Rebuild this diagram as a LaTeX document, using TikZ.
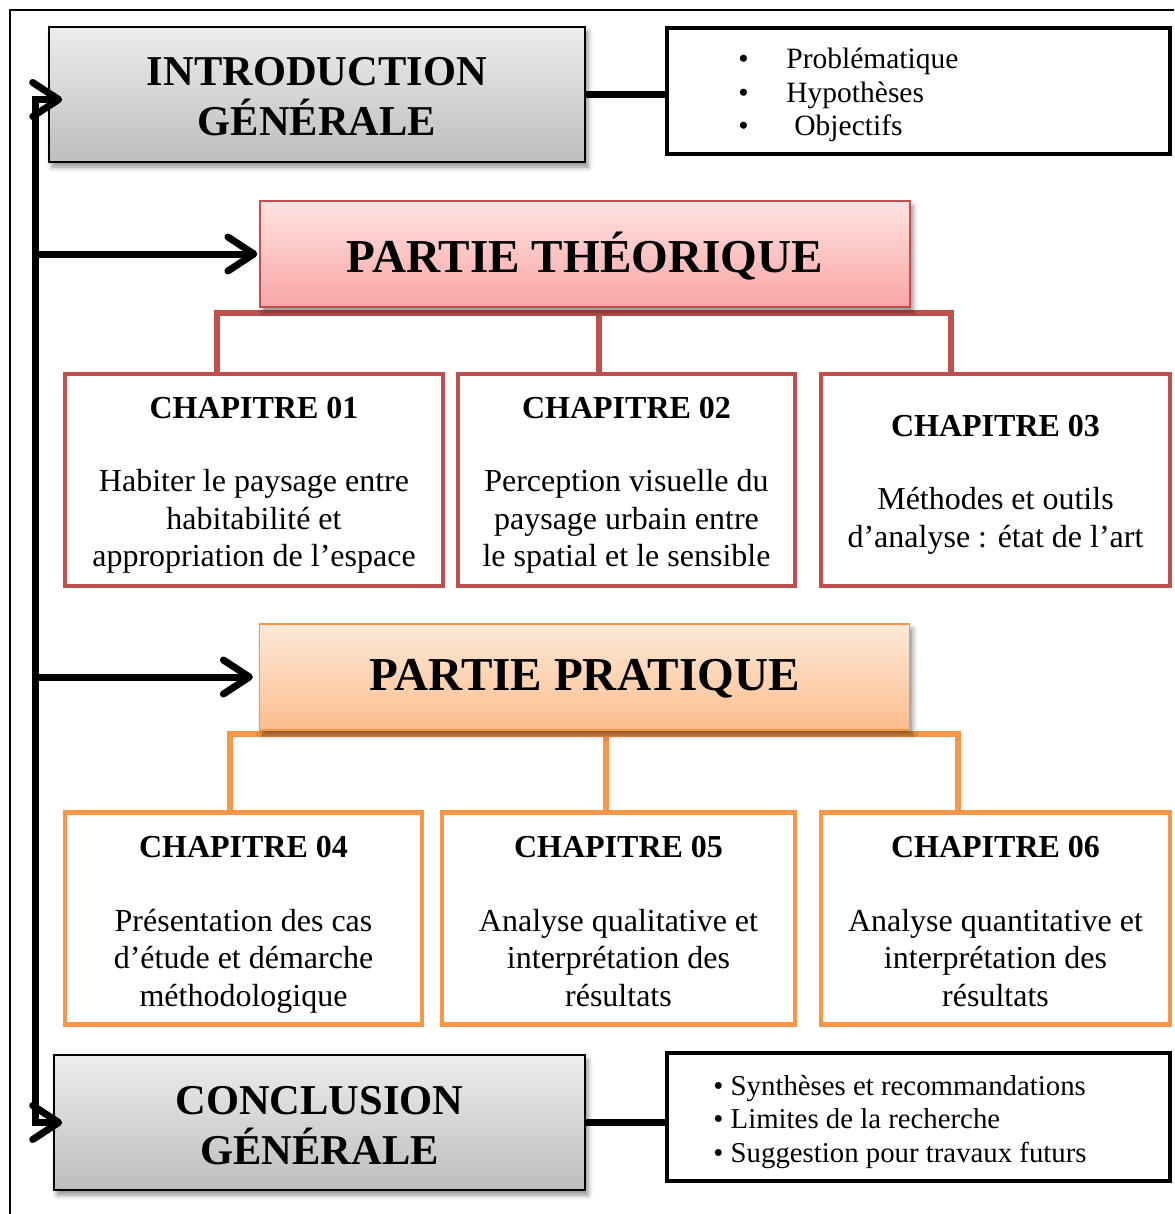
\documentclass[tikz,border=0pt]{standalone}
\usepackage{fontspec}
\setmainfont{Liberation Serif}
\usetikzlibrary{arrows.meta,shadows,shadows.blur}

\definecolor{theored}{HTML}{C0504D}
\definecolor{pratorange}{HTML}{F79646}
\definecolor{greytop}{HTML}{EDEDED}
\definecolor{greybot}{HTML}{BDBDBD}
\definecolor{pinktop}{HTML}{FFE2E2}
\definecolor{pinkbot}{HTML}{F8A6A4}
\definecolor{peachtop}{HTML}{FDE9D9}
\definecolor{peachbot}{HTML}{FBBE8E}

% a title set one point low without changing its box
\newcommand{\lowtitle}[1]{\raisebox{-1pt}[\height][\depth]{#1}}

\tikzset{
  softshadow/.style={blur shadow={shadow xshift=1.5pt, shadow yshift=-2.5pt,
      shadow blur radius=2.5pt, shadow opacity=45}},
  endbox/.style={draw=black, line width=0.8pt, top color=greytop, bottom color=greybot,
      minimum width=#1, minimum height=67.5pt, inner sep=0pt, softshadow},
  endtext/.style={inner sep=0pt, align=center, font=\fontsize{21.25}{25}\selectfont\bfseries},
  partbox/.style={line width=0.6pt, minimum width=325pt, minimum height=53pt,
      inner sep=0pt, align=center, font=\fontsize{23.6}{28}\selectfont\bfseries, softshadow},
  chapbox/.style={draw=#1, line width=2.2pt, fill=white, minimum height=106pt, inner sep=0pt},
  chaptext/.style={anchor=north, inner sep=0pt, align=center,
      font=\fontsize{16}{18.75}\selectfont},
  listbox/.style={draw=black, line width=2pt, fill=white, minimum width=251.5pt,
      minimum height=#1, inner sep=0pt},
  listtext/.style={anchor=north west, inner sep=0pt, align=left,
      font=\fontsize{#1}{16.75}\selectfont},
  spine/.style={line width=3.5pt, black,
      arrows={Straight Barb[length=13pt, width=17pt, line cap=round, line join=round]
              -Straight Barb[length=13pt, width=17pt, line cap=round, line join=round]}},
  barb/.style={line width=3.5pt, black,
      -{Straight Barb[length=13pt, width=17pt, line cap=round, line join=round]}},
  joinline/.style={line width=3.5pt, black},
  branch/.style={line width=3pt, draw=#1},
}

\begin{document}
\begin{tikzpicture}[x=0.5pt, y=-0.5pt]
\useasboundingbox (0,0) rectangle (1174,1214);

% page frame
\draw[line width=1pt] (10,1214) -- (10,10) -- (1174,10);

% coordinates of the tree branches
\coordinate (sp) at (35,0);
\coordinate (tb1) at (217,313);
\coordinate (tb2) at (599,313);
\coordinate (tb3) at (951,313);
\coordinate (pb1) at (230,734);
\coordinate (pb2) at (606,734);
\coordinate (pb3) at (958,734);

% chapter boxes of the theoretical part
\node[chapbox=theored, minimum width=189pt] (ch1) at (254,480) {};
\node[chapbox=theored, minimum width=168.5pt] (ch2) at (626.5,480) {};
\node[chapbox=theored, minimum width=174.5pt] (ch3) at (995.5,480) {};
\node[chaptext] (ch1t) at ([yshift=-12.5pt]ch1.north)
  {{\bfseries CHAPITRE 01}\\[18pt]Habiter le paysage entre\\habitabilité et\\appropriation de l’espace};
\node[chaptext] (ch2t) at ([yshift=-12.5pt]ch2.north)
  {{\bfseries CHAPITRE 02}\\[18pt]Perception visuelle du\\paysage urbain entre\\le spatial et le sensible};
\node[chaptext] (ch3t) at ([yshift=-21.5pt]ch3.north)
  {{\bfseries CHAPITRE 03}\\[18pt]Méthodes et outils\\d’analyse : état de l’art};

% chapter boxes of the practical part
\node[chapbox=pratorange, minimum width=178.5pt] (ch4) at (243.5,918.5) {};
\node[chapbox=pratorange, minimum width=176.5pt] (ch5) at (618.5,918.5) {};
\node[chapbox=pratorange, minimum width=174.5pt] (ch6) at (995.5,918.5) {};
\node[chaptext] (ch4t) at ([yshift=-13pt]ch4.north)
  {{\bfseries CHAPITRE 04}\\[18pt]Présentation des cas\\d’étude et démarche\\méthodologique};
\node[chaptext] (ch5t) at ([yshift=-13pt]ch5.north)
  {{\bfseries CHAPITRE 05}\\[18pt]Analyse qualitative et\\interprétation des\\résultats};
\node[chaptext] (ch6t) at ([yshift=-13pt]ch6.north)
  {{\bfseries CHAPITRE 06}\\[18pt]Analyse quantitative et\\interprétation des\\résultats};

% branches from the parts to their chapters
\draw[branch=theored, line cap=rect] (tb1 |- ch1.north) -- (tb1) -- (tb3) -- (tb3 |- ch3.north);
\draw[branch=theored] (tb2) -- (tb2 |- ch2.north);
\draw[branch=pratorange, line cap=rect] (pb1 |- ch4.north) -- (pb1) -- (pb3) -- (pb3 |- ch6.north);
\draw[branch=pratorange] (pb2) -- (pb2 |- ch5.north);

% the two parts
\node[partbox, draw=theored, top color=pinktop, bottom color=pinkbot] (theo) at (585,254)
  {\lowtitle{PARTIE THÉORIQUE}};
\node[partbox, draw=pratorange, top color=peachtop, bottom color=peachbot] (prat) at (584.5,677)
  {\lowtitle{PARTIE PRATIQUE}};

% introduction and conclusion
\node[endbox=268pt] (intro) at (317,94.5) {};
\node[endtext] (introt) at ([yshift=-1pt]intro.center) {INTRODUCTION\\GÉNÉRALE};
\node[endbox=265.5pt] (concl) at (319.5,1122.5) {};
\node[endtext] (conclt) at ([yshift=-1.5pt]concl.center) {CONCLUSION\\GÉNÉRALE};

% their contents
\node[listbox=63pt] (introlist) at (918.5,91) {};
\node[listtext=14.75] (introlistt) at ([shift={(73,22)}]introlist.north west)
  {\makebox[24pt][l]{•}Problématique\\
   \makebox[24pt][l]{•}Hypothèses\\
   \makebox[24pt][l]{•}\hspace{4pt}Objectifs};
\node[listbox=64pt] (concllist) at (918.5,1117) {};
\node[listtext=14.4] (concllistt) at ([shift={(48,24)}]concllist.north west)
  {• Synthèses et recommandations\\
   • Limites de la recherche\\
   • Suggestion pour travaux futurs};

\draw[joinline] (intro.east) -- (intro.east -| introlist.west);
\draw[joinline] (concl.east) -- (concl.east -| concllist.west);

% reading spine with its arrows
\coordinate (introtip) at ([shift={(14,5)}]intro.west);
\coordinate (concltip) at ([shift={(9,0)}]concl.west);
\draw[spine, line join=miter] (introtip) -- (introtip -| sp) -- (concltip -| sp) -- (concltip);
\draw[barb] (theo.west -| sp) -- ([xshift=-1pt]theo.west);
\draw[barb] (prat.west -| sp) -- ([xshift=-3pt]prat.west);
\end{tikzpicture}
\end{document}
